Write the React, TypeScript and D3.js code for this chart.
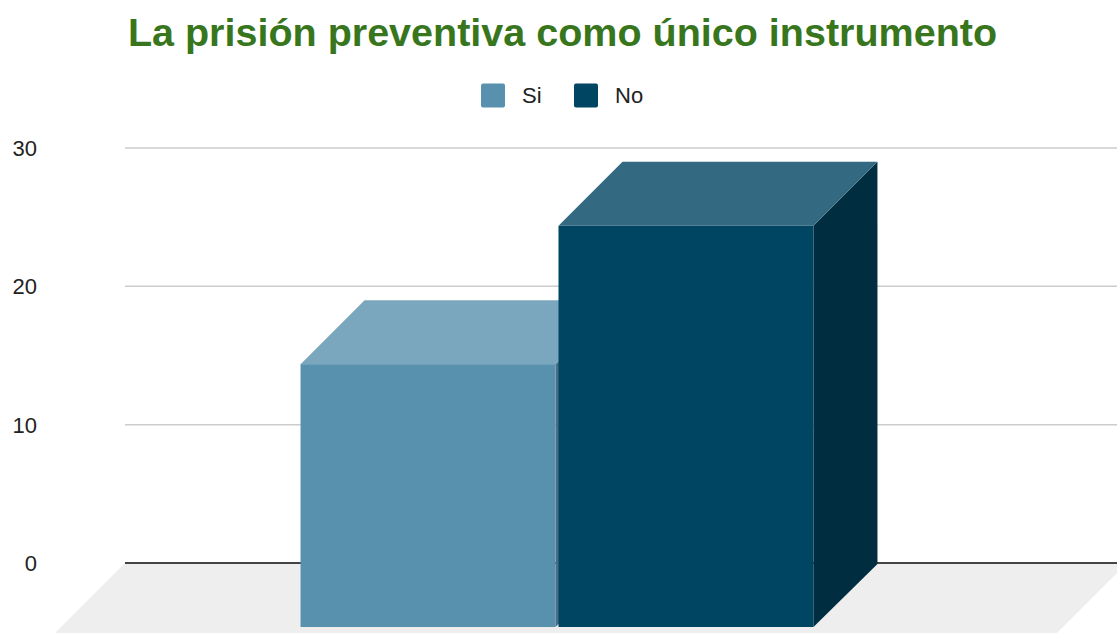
import React, { useEffect } from 'react';
import * as d3 from 'd3';

const title = 'La prisión preventiva como único instrumento';
const categories = ['La prisión preventiva como único instrumento'];
const seriesNames = ['Si', 'No'];
const seriesValues = [19, 29];
const yTicks = [0, 10, 20, 30];

const colors = {
    Si: { front: '#5891ae', top: '#7aa7be', side: '#466f85' },
    No: { front: '#004561', top: '#336a81', side: '#002d40' },
} as Record<string, { front: string; top: string; side: string }>;

const W = 1117;
const H = 633;
const depth = 64;

const App: React.FC = () => {
    useEffect(() => {
        document.body.style.margin = '0';
    }, []);

    const plotLeft = 125;
    const plotRight = 1117;

    const yScale = d3.scaleLinear().domain([0, 30]).range([563, 148]);

    const x0 = d3.scaleBand<string>()
        .domain(categories)
        .range([plotLeft, plotRight])
        .paddingInner(0)
        .paddingOuter(0.467);

    const x1 = d3.scaleBand<string>()
        .domain(seriesNames)
        .range([0, x0.bandwidth()])
        .paddingInner(0.0116)
        .paddingOuter(0);

    const base = yScale(0);

    // floor parallelogram under the bars
    const floorDepth = 90;
    const floor = [
        [plotLeft, base],
        [plotRight + 10, base],
        [plotRight + 10 - floorDepth, base + floorDepth],
        [plotLeft - floorDepth, base + floorDepth],
    ];

    const poly = (pts: number[][]) => pts.map(p => p.join(',')).join(' ');

    return (
        <svg width={W} height={H} style={{ display: 'block', background: '#fff' }}
             fontFamily="'Liberation Sans', Arial, sans-serif">
            <text x={562.5} y={46} textAnchor="middle" fontSize={39.5} fontWeight="bold" fill="#38761d">
                {title}
            </text>

            {/* legend */}
            {seriesNames.map((s, i) => {
                const lx = [481, 574][i];
                return (
                    <g key={s}>
                        <rect x={lx} y={83.5} width={24} height={24} rx={2} fill={colors[s].front} />
                        <text x={lx + 41} y={103} fontSize={22} fill="#222">{s}</text>
                    </g>
                );
            })}

            <polygon points={poly(floor)} fill="#eeeeee" />

            {yTicks.map(t => (
                <g key={t}>
                    {t !== 0 && (
                        <line x1={plotLeft} x2={plotRight} y1={yScale(t)} y2={yScale(t)}
                              stroke="#cccccc" strokeWidth={1.5} />
                    )}
                    <text x={37} y={yScale(t) + 8} textAnchor="end" fontSize={22} fill="#222">{t}</text>
                </g>
            ))}
            <line x1={plotLeft} x2={plotRight} y1={base} y2={base} stroke="#444" strokeWidth={2} />

            {categories.map(c => (
                <g key={c}>
                    {seriesNames.map((s, i) => {
                        const bx = (x0(c) ?? 0) + (x1(s) ?? 0);
                        const bw = x1.bandwidth();
                        const by = yScale(seriesValues[i]);
                        // front face is shifted forward (left/down) by depth
                        const fx = bx - depth;
                        const fyTop = by + depth;
                        const fyBot = base + depth;
                        const top = [[fx, fyTop], [bx, by], [bx + bw, by], [fx + bw, fyTop]];
                        const side = [[fx + bw, fyTop], [bx + bw, by], [bx + bw, base + 1], [fx + bw, fyBot]];
                        return (
                            <g key={s}>
                                <polygon points={poly(side)} fill={colors[s].side} />
                                <polygon points={poly(top)} fill={colors[s].top} />
                                <rect x={fx} y={fyTop} width={bw} height={fyBot - fyTop} fill={colors[s].front} />
                            </g>
                        );
                    })}
                </g>
            ))}
        </svg>
    );
};

export default App;
